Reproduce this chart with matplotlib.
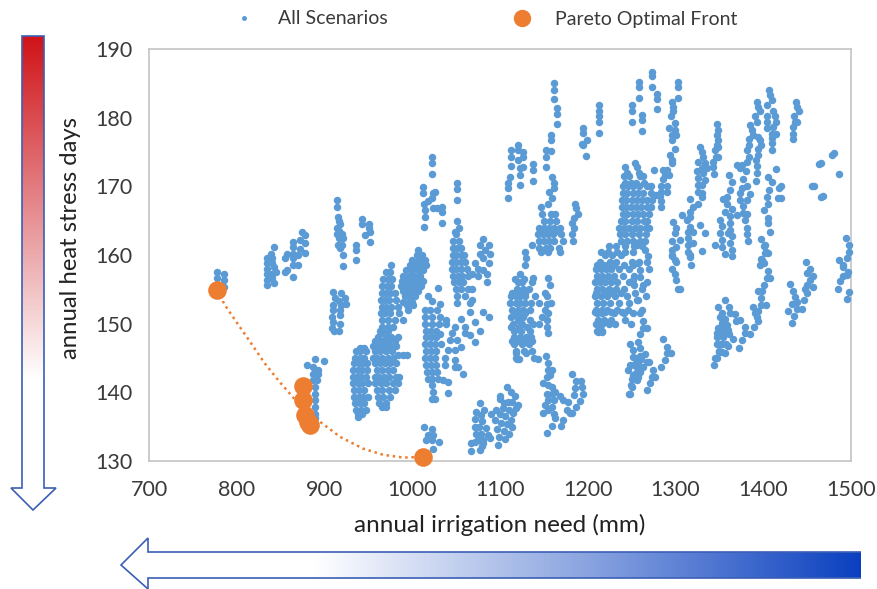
import matplotlib
matplotlib.use("Agg")
import matplotlib.pyplot as plt
import numpy as np
from matplotlib.colors import LinearSegmentedColormap
from matplotlib.lines import Line2D
from matplotlib.patches import Polygon

plt.rcParams['font.family'] = ['Lato', 'DejaVu Sans']

x_ticks = [700, 800, 900, 1000, 1100, 1200, 1300, 1400, 1500]
y_ticks = [130, 140, 150, 160, 170, 180, 190]

pareto_x = [777.5, 876, 876, 878, 881.5, 883, 1012.5]
pareto_y = [154.9, 140.9, 138.9, 136.7, 135.7, 135.2, 130.6]
front_curve_x = [777.5, 786.5, 802, 815, 832, 849, 866, 876, 883, 895, 918, 944, 967, 990, 1012.5]
front_curve_y = [154.9, 152.7, 149.8, 147.4, 144.2, 141.5, 139, 137.8, 136.8, 135.7, 133.5, 131.8, 130.9, 130.5, 130.6]

c_a = [(777,157.5),(785,157.3),(777,156.6),(786,156.4),(786,155.3)]
c_b = [(842,161.2),(839,160.2),(834,159.5),(840,159.5),(834,158.8),(840,158.8),(834,158),(843,158.3),(834,157.3),(840,157.3),(845,157.5),(834,156.4),(840,156.6),(834,155.6),(843,155.9),
       (874,163.4),(878,162.9),(864,161.9),(872,162.2),(878,161.7),(864,161.2),(872,160.9),(857,160.2),(864,160.2),(878,160.3),(855,159.5),(864,159.5),(870,160),(864,158.5),(870,158.5),(857,157.8),(855,157.5),(864,156.8)]
c_c = [(910,154.6),(919,154.5),(912,153.7),(923,153.7),(916,153.3),(910,152.7),(919,152.7),(925,152.9),(910,152),(918,152),(908,151),(918,151.2),(910,150.3),(918,150),(908,149.3),(917,148.9),(911,148.9)]
c_d = [(914,168),(914,167),(915,165.5),(916,165),(918,164.5),(914,164),(917,163.5),(920,163),(914,163),(916,162.5),(921,162.5),(915,161.5),(920,161.5),(918,161),(921,160),(921,158.4),(936,161.4),(936,160.7),(936,159.2),(943,165.2),(943,164.5),(951,164.5),(951,164),(946,162.9),(952,163.3),(952,161.9)]
c_near = [(889,144.9),(899,144.6),(880,144),(887,143.7),(893,143.2),(887,142.7),(893,142.6),(887,141.8),(891,141.8),(889,140.8),(889,139.8),(889,138.9),(889,137.9),(889,136.9),(889,136.2)]
c_e_left = [(940,146.5),(945,146.5),(936,146),(941,146),(947,146),(935,145),(940,145),(945,145),(934,144.2),(939,144.2),(944,144.2),(948,144.2),(933,143.2),(938,143.2),(943,143.2),(949,143.2),(933,142.3),(937,142.3),(942,142.3),(947,142.3),(933,141.3),(938,141.3),(943,141.3),(950,141.3),(934,140.3),(939,140.3),(945,140.3),(934,139.3),(939,139.3),(944,139.3),(950,139.3),(935,138.4),(940,138.4),(945,138.4),(936,137.4),(942,137.4),(947,137.4),(938,136.8),(943,136.8),(938,136.4)]
c_e_mid = [(967,148.6),(961,148),(970,148),(976,148),(984,148),(958,147.5),(965,147.5),(972,147.5),(980,147.5),(955,146.8),(962,146.8),(968,146.8),(975,146.8),(982,146.8),(957,146),(963,146),(970,146),(977,146),(984,145.5),(990,145.4),(994,145.4),(955,145),(960,145),(966,145),(972,145),(978,145),(957,144.2),(963,144.2),(969,144.2),(975,144.2),(982,144.2),(960,143.2),(966,143.2),(972,143.2),(978,143.2),(957,142.3),(962,142.3),(968,142.3),(974,142.3),(981,142.3),(985,142.3),(958,141.3),(964,141.3),(970,141.3),(978,141.3),(984,141.3),(960,140.3),(966,140.3),(973,140.3),(980,140.3),(961,139.3),(967,139.3),(975,139.3),(962,138.4),(970,138.4),(966,137.9),(970,137.9)]
c_f_left = [(976,158.5),(970,157.5),(975,157.5),(967,156.5),(972,156.5),(977,156.5),(966,155.5),(971,155.5),(976,155.5),(965,154.5),(970,154.5),(975,154.5),(980,154.5),(964,153.5),(969,153.5),(974,153.5),(982,153.5),(965,152.5),(970,152.5),(976,152.5),(984,152.4),(994,152.7),(1001,152.7),(964,151.5),(969,151.5),(975,151.5),(985,151.5),(995,152),(966,150.5),(972,150.5),(980,150.5),(990,150.5),(965,149.5),(972,149.5),(978,149.5),(963,148.9),(972,148.9)]
c_f_right = [(1007,160.8),(1005,160),(1011,160),(1000,159.3),(1008,159.3),(1014,159.3),(998,158.5),(1003,158.5),(1010,158.5),(1016,158.5),(993,157.8),(1000,157.8),(1006,157.8),(1012,157.8),(990,157),(996,157),(1002,157),(1009,157),(988,156.2),(993,156.2),(999,156.2),(1005,156.2),(1012,156.2),(987,155.5),(992,155.5),(998,155.5),(1004,155.5),(1010,155.5),(990,154.8),(996,154.8),(1002,154.8),(1006,154.8),(992,154),(998,154),(1003,154),(990,153.2),(996,153.2),(1000,153.2)]
c_g = [(1018,154.1),(1029,155.2),(1023,153.3),(1032,152.9),(1015,152),(1020,152),(1028,152),(1015,151),(1022,151),(1032,151),(1015,150),(1022,150),(1030,150),(1038,150),(1039,150.5),(1056,150.7),(1066,151.7),(1081,151.7),(1087,151),(1071,150.3),(1077,149),(1060,149.5),(1049,149.5),(1045,148.6),(1060,148.6),(1066,148.3),(1071,147.4),(1051,147.6),(1043,147.6),(1056,146.6),(1049,146.1),(1041,146.1),(1037,145),(1049,144.7),(1052,143.7),(1058,142.7),(1037,144),(1049,143.7),(1041,141.5),(1035,141.8),(1041,139.9),
       (1016,149),(1021,149),(1027,149),(1032,148.5),(1016,148),(1021,148),(1027,148),(1015,147),(1020,147),(1026,147),(1033,147),(1016,146),(1021,146),(1027,146),(1015,145),(1020,145),(1026,145),(1016,144),(1021,144),(1027,144),(1017,143),(1022,143),(1028,143),(1018,142),(1023,142),(1029,142),(1023,141),(1024,140),(1026,139),(1022,139)]
c_g_up = [(1050,163),(1047,162),(1053,162),(1046,161),(1051,161),(1056,161),(1046,160),(1050,160),(1055,160),(1059,160),(1045,159),(1050,159),(1055,159),(1060,159),(1045,158),(1050,158),(1056,158),(1062,158),(1047,157),(1052,157),(1057,157),(1064,157),(1048,156),(1053,156),(1058,156),(1050,155),(1056,155),(1063,155),(1051,154),(1060,154),(1051,153),(1066,153),
          (1081,162.4),(1077,161.4),(1087,161.4),(1083,160.8),(1077,160.2),(1089,160.2),(1081,159.5),(1071,158.8),(1087,158.8),(1075,158),(1081,157.8),(1085,157.3),(1068,157.3),(1075,157),(1085,156),(1068,155.1),(1068,153.4),(1051,165),(1053,164),(1049,163.4)]
c_top1 = [(1023,174.2),(1023,173.4),(1023,171.8),(1012,169.9),(1012,169),(1051,170.5),(1051,169.6),(1051,168),(1024,169),(1026,169.2),(1022,168.3),(1013,167.5),(1018,167.8),(1033.5,167),(1033.5,166.2),(1024,166.8),(1028,166.8),(1014.5,166.6),(1014.5,165.6),(1033.5,164.6),(1013,164.1)]
c_h = [(1112,175.3),(1112,174.3),(1112,173),(1120,176),(1120,175.3),(1126,175),(1126,174.2),(1120,173.9),(1126,172.8),(1123,172.6),(1123,171.7),(1111,171.4),(1109.5,170.5),(1109.5,169.7),(1109.5,168.3),(1123,170.2),(1138,173.3),(1138,172.4),(1138,170.8),
       (1161.6,185),(1161.6,184.1),(1161.6,182.7),(1165,181.4),(1165,180.5),(1165,179.1),(1158,177.5),(1158,176.7),(1152.4,175.3),(1158,175.2),(1152.4,174.3),(1152.4,172.8),(1159,171.3),(1161,170.5),(1162,169.8),(1156,169.2),(1159,168.3),(1155,167.5)]
c_i = [(1147,167),(1148,166),(1158,166),(1163,166),(1150,165),(1157,165),(1164,165),(1144,164),(1150,164),(1156,164),(1162,164),(1168,164),(1146,163.5),(1153,163.5),(1159,163.5),(1165,163.5),(1143,163),(1149,163),(1155,163),(1160,163),(1170,163),(1144,162),(1150,162),(1156,162),(1162,162),(1172,162),(1145,161),(1152,161),(1157,161),(1167,161),(1137,161.5),(1147,160.5),(1155,160.5),(1168,160.5),(1128.5,160.5),(1130,159.5),(1128.5,158.5),
       (1185.5,167.5),(1187,166.8),(1189,166),(1184,165.4),(1182,164.6),(1184,163.9),(1182,163),(1183,162.1)]
c_i_low = [(1123,157.3),(1117,156.5),(1127,156.5),(1138,156.6),(1155,156.6),(1120,156),(1125,156),(1136,156),(1157,155.7),(1119,155),(1126,155),(1133,155),(1114,154.5),(1124,154.5),(1129,154.5),(1151,154.5),(1112,154),(1118,154),(1123,154),(1129,154),(1140,154),(1153,154),(1111,153),(1118,153),(1123,153),(1129,153),(1135,153),(1144,153),(1158,153),(1153,152.8),(1114,152),(1121,152),(1126,152),(1134,152),(1151,152),(1118,151.5),(1123,151.5),(1129,151.5),(1155,151.5),(1113,151),(1120,151),(1126,151),(1148,151),(1120,150.5),(1134,150.5),(1153,150.5),(1115,150),(1125,150),(1145,150),(1138,150),(1113,149.5),(1122,149.5),(1131,149.5),(1153,149.5),(1116,149),(1124,149),(1134,149),(1155,148.6),(1116,148),(1123,148),(1130,148),(1135,148),(1114,147.5),(1122,147.5),(1128,147.5),(1136,147.5),(1116,147),(1125,147),(1133,147),(1118,146),(1127,146),(1136,146),(1118,145.8),(1130,145.8),(1118,145),(1139,145),(1143,144.8),(1119,144.9),(1122,144.9)]
c_j = [(1152,145.3),(1155,144.2),(1155,143.3),(1159,143.3),(1153,142.3),(1157,142.5),(1149,141.3),(1155,141),(1159,140.8),(1163,140),(1153,139.8),(1159,139.8),(1168,139.4),(1155,138.9),(1161,138.9),(1172,138.9),(1151,138.2),(1159,137.9),(1149,137),(1155,137.4),(1161,136.9),(1172,136),(1180,137),(1163,136.2),(1170,135.1),(1159,135.1),(1154,134.1),
       (1182,142.6),(1187,141.6),(1192,141.6),(1193,140.8),(1185.5,140.7),(1184,139.6),(1195,139.7),(1191,138.8),(1178,138.6),(1187,137.8),(1182,137),(1176,137.5)]
c_k = [(1108,140.8),(1113,140),(1100,139.5),(1117,139.4),(1077,138.5),(1121,138.1),(1100,139),(1104,138.4),(1109,138.6),(1114,138.6),(1118,137.7),(1096,137.5),(1103,137.7),(1110,137.5),(1115,137),(1082,137.4),(1073,137.2),(1078,136.7),(1090,136.8),(1100,136.8),(1106,136.5),(1112,136),(1072,136.1),(1080,135.8),(1094,136),(1101,135.6),(1108,135.4),(1114,135),(1071,135),(1076,135),(1084,134.8),(1097,134.7),(1104,134.4),(1110,134),(1073,134),(1078,134),(1086,133.8),(1099,133.5),(1106,133.2),(1075,133),(1081,133),(1089,133.3),(1071,132.7),(1080,132.2),(1098,132.3),(1067,131.4),(1077,131.6),(1066.6,132.6),(1081,132.6)]
c_l = [(1013,134.9),(1022,134.6),(1018,133.8),(1024,133.8),(1016,133),(1022,133),(1030,132.7),(1024,131.8)]
c_m = [(1215,160.5),(1223,160.5),(1233,160.5),(1243,160.5),(1220,160),(1228,160),(1238,160),(1214,159),(1225,159),(1232,159),(1250,159),(1258,159),(1268,159),(1210,158.5),(1217,158.5),(1222,158.5),(1230,158.5),(1241,158.5),(1209,158),(1215,158),(1221,158),(1227,158),(1236,158),(1247,158),(1270,158),(1210,157),(1216,157),(1223,157),(1230,157),(1240,157),(1253,157),(1208,156),(1214,156),(1220,156),(1226,156),(1233,156),(1247,156),(1268,156),(1210,155),(1216,155),(1224,155),(1232,155),(1241,155),(1262,155),(1209,154.5),(1219,154.5),(1228,154.5),(1238,154.5),(1208,154),(1215,154),(1222,154),(1231,154),(1245,154),(1266,154),(1210,153),(1217,153),(1225,153),(1236,153),(1247,153),(1209,152),(1216,152),(1222,152),(1233,152),(1246,152),(1262,152),(1208,151.7),(1213,151.7),(1220,151.7),(1227,151.7),(1239,151.7),(1210,151.5),(1216,151.5),(1230,151.5),(1241,151.5),(1251,151.5),(1212,150.5),(1219,150.5),(1227,150.5),(1243,150.5),(1209,150),(1216,150),(1224,150),(1231,150),(1249,150),(1214,149.8),(1211,149),(1216,149),(1212,148.8),(1216,148.8),(1214,148.9)]
c_top2 = [(1195,178.5),(1195,177.7),(1195,176),(1199,176.8),(1198,174.4),(1194,176.2),(1212.5,181.9),(1212.5,180.9),(1212.5,180.2),(1212.5,179.4),(1212.5,177.8),(1250,181.9),(1250,181),(1250,179.4),(1258.5,185.2),(1258.5,184.4),(1258.5,182.8),(1261.5,180.4),(1261.5,179.6),(1261.5,178),(1272.7,186.7),(1272.7,186),(1272.7,184.4),(1278.4,183.5),(1278.4,182.7),(1278.4,181.2),(1303,185.2),(1303,184.4),(1303,182.8)]
c_strand = [(1295.5,182.3),(1297.4,181.6),(1297.4,180.9),(1294.4,180.2),(1299.3,179.2),(1292.8,178.5),(1299.3,178.2),(1295.5,177.5),(1301,177.5),(1295.5,176.7),(1299.3,175.5),(1293.6,174.6),(1295.5,173.9),(1289.8,172.4),(1295.5,173.4),(1286,172.4),(1288,171.7),(1292.8,171.7),(1286,171),(1284,170.1),(1289.8,170.1),(1284,169.2),(1289.8,169.2),(1282,168.6),(1283,167.8),(1283,167),(1275.4,172.4)]
c_n = [(1254,173.4),(1243,172.8),(1256,172.8),(1245,172),(1258,172),(1241,171.5),(1247,171.5),(1260,171.5),(1263,171.5),(1243,170.5),(1249,170.5),(1255,170.5),(1264,170.5),(1240,170),(1246,170),(1252,170),(1258,170),(1268,170),(1272,170),(1240,169),(1245,169),(1251,169),(1257,169),(1263,169),(1272,169),(1278,168.8),(1239,168),(1244,168),(1250,168),(1256,168),(1262,168),(1268,168),(1273,168),(1239,167),(1244,167),(1249,167),(1255,167),(1261,167),(1267,167),(1272,167),(1240,166),(1245,166),(1251,166),(1257,166),(1263,166),(1270,166),(1238,165),(1243,165),(1250,165),(1256,165),(1264,165),(1268,165),(1236,164),(1241,164),(1247,164),(1254,164),(1260,164),(1266,164),(1270,164),(1237,163),(1242,163),(1250,163),(1258,163),(1266,163),(1238,162),(1245,162),(1251,162),(1259,162),(1265,162),(1224,161.3),(1232,161.3),(1242,161.3),(1253,161.3),(1262,161.3),
       (1255.6,161.4),(1252,160.4),(1265,160.7),(1269,159.8),(1257.5,158.8),(1252,158.5),(1259.4,157.8),(1259.4,156.8),(1252,156.4),(1263,155.7),(1252.6,155.6),(1253.7,154.5),(1255.6,153.4),(1257.5,153.4)]
c_o = [(1347.6,179.1),(1348.7,178.2),(1347.6,177.5),(1348.7,176.8),(1347,176),(1345,175.3),(1348.7,175.8),(1346,174.2),(1343,173.6),(1348.7,174.2),(1343,172.8),(1344,171.8),
       (1328,175.7),(1330,175),(1331.6,174.3),(1326,173.6),(1333.5,173.4),(1330,172.6),(1336,172.6),(1324,172.2),(1331.6,171.9),(1326,171.2),(1333.5,170.9),(1326,170.2),(1330,170.2),(1326,169.2),(1330,169.1),(1330,168.4),(1316.4,168.1),(1326,167.5),(1320,167),(1316.4,166.3),(1307,165.8),
       (1297.4,164.8),(1312.6,165.1),(1316.4,165.6),(1327.8,164.4),(1301,163.9),(1316.4,164.1),(1299.3,163.2),(1314.5,163.4),(1320,163.3),(1305,162.2),(1333.5,163.2),(1295.5,162),(1314.5,162.5),(1320,161.8),(1301,161.2),(1314.5,161.5),(1295.5,160.8),(1329.7,160.6),(1314.5,160.5),(1295.5,159.8),(1316.4,160),(1299.3,159.3),
       (1295.5,160),(1301,159),(1295.5,158),(1299,157.3),(1301,156.3),(1303,155.1),(1305,155.1),(1316.4,159.7),(1318,158.5)]
c_p = [(1406.8,184),(1407.6,183.3),(1409.5,182.6),(1392.4,182.3),(1394.3,181.6),(1396.2,180.9),(1404.6,181.9),(1411.4,180.9),(1403.8,180.2),(1413.3,180.2),(1390.5,180.2),(1403.8,179.4),(1415,179.4),(1392.4,179.3),(1403.8,178.5),(1411.4,178.7),(1384.8,179),(1386.7,178.2),(1409.5,177.6),(1414,177.6),(1388.6,177.5),(1384,176.9),(1394.3,177.2),(1409.5,177),(1396.2,176.8),(1398,176),(1384,176),(1394.3,175.5),(1409.5,176.3),(1381,175.3),(1409.5,175.3),(1394.3,174.6),(1384,174.2),(1381,173.6),(1391.6,173.9),(1375.3,173.1),(1369.6,173.1),(1392.4,173),(1373.4,172.6),(1380.2,172.2),(1392.4,171.9),(1391.6,170.8),(1360.9,171.7),(1376.4,171),(1405.7,171.4),(1363.9,170.6),(1410.3,170.6),(1381,170),(1375.3,169.7),(1362,169.4),(1406.8,169.5),(1373.4,169.1),(1384.8,168.9),(1403.8,168.5),(1354.4,168.1),(1358.2,168.5),(1373.4,168),(1381.8,168),(1358.2,167.5),(1405,167.5),(1377.2,167.2),(1363.9,166.7),(1401,166.6),(1356.3,166.2),(1377.2,166.1),(1362,165.7),(1369.6,165.8),(1381,166),(1405,165.4),(1350.6,165.1),(1379,165.1),(1362,164.6),(1405,164.6),(1352.5,164.2),(1381,163.9),(1362,163.7),(1407.6,163.4),(1350.6,163.2),(1360,163.2),(1364,162.8),(1381,163),(1352.5,162.2),(1383,162),(1397.3,162.4),(1345,161.4),(1362,161.7),(1402,161.5),(1352.5,161.2),(1364,160.8),(1402.7,160.5),(1356.3,160.2),(1398,159.4),(1364,159.8),
       (1436.9,182.3),(1439,181.6),(1440.7,180.9),(1435.3,180.2),(1439,179.3),(1434,178.6),(1434,177.6),(1434,176.9),(1436,179.3),
       (1480.6,174.8),(1478,174.6),(1465.7,173.4),(1463,173.2),(1486,171.8),(1457.8,170),(1455,170),(1468.4,168.6),(1466,168.5),(1415,172.5),(1420,170),(1418,169.8),(1420,168.3),(1417,168.3)]
c_q = [(1401,161.3),(1402,160.3),(1405.7,160.3),(1399,159.2),(1396,158.5),(1401,158.8),(1405,157.7),(1404,156.7),(1408,156.7),(1401,155.7),(1394,154.8),(1399,154.8),(1398,153.8),(1398,152.7),(1402.7,152.7),(1388,152.5),(1394,151.8),(1390.5,151.5),(1392.4,151),(1394,150.4),(1389.4,149.5),
       (1356.3,153.4),(1348,152.5),(1361,152.4),(1352.5,151.5),(1362,151.5),(1367.7,151.4),(1350.6,150.9),(1356.3,150.7),(1373.4,150.6),(1368.8,150.4),(1352.5,150.1),(1358.2,149.8),(1379,149.5),(1348.7,149.3),(1354.4,149.3),(1360,149.1),(1347.6,148.6),(1353.6,148.6),(1361,148.5),(1379,148.6),(1384.8,148.5),(1346.8,148),(1354.4,148),(1365.8,147.8),(1375.3,147.6),(1346.8,147),(1352.5,147),(1360,146.8),(1372.6,146.5),(1349.8,145.9),(1356.3,145.8),(1345,145),(1347,145),(1344,144),(1351,147),(1357,147),(1350,146),(1353,145.9)]
c_r = [(1430.4,155.8),(1434.2,154.8),(1436,153.9),(1432.3,152.8),(1438,153.2),(1428.5,151.8),(1439,152.1),(1443.7,152.1),(1435.3,151.1),(1433,150.1),(1448.3,159),(1453.2,158),(1449.4,157.4),(1456.2,157),(1453.2,156.3),(1449.4,155.7),(1456.2,155.4),(1447.5,155),(1449.4,154.5),(1446.4,153.4)]
c_s = [(1494.2,162.5),(1498,161.4),(1497.7,160.4),(1495.8,159.5),(1486.3,159.2),(1491.2,158.5),(1491.2,158.2),(1496.9,157.5),(1491.2,157),(1495,157.1),(1487.4,156.2),(1484.7,155.1),(1498,154.6),(1495.8,153.6)]
c_t = [(1259.4,151.5),(1263.2,150.4),(1263.2,149.4),(1267.8,149.4),(1260,148.5),(1286,147.7),(1257.5,147.4),(1248,147.1),(1290.6,146.6),(1251.8,146.2),(1259.4,146.5),(1289.8,145.8),(1294.4,145.8),(1265,145.6),(1259.4,145.3),(1251.8,145.2),(1287.9,144.7),(1267,144.4),(1270,144.4),(1257.5,144.2),(1248,144),(1284,143.7),(1255.6,143.7),(1263.2,143.7),(1274.6,143.3),(1259.4,143),(1253.7,142.7),(1276.5,142.3),(1272.7,142.3),(1257.5,142.3),(1251.8,142.5),(1255.6,141.8),(1270.8,141.4),(1250,140.8),(1267.8,140.3),(1248,139.8),(1246,143.2),(1249,141),(1247.5,139.8),(1250,142),(1254,145),(1256,144.5),(1253,144),(1256,143),(1261,144.8),(1261,143.5)]

clusters = [c_a, c_b, c_c, c_d, c_near, c_e_left, c_e_mid, c_f_left, c_f_right, c_g, c_g_up, c_top1,
            c_h, c_i, c_i_low, c_j, c_k, c_l, c_m, c_top2, c_strand, c_n, c_o, c_p, c_q, c_r, c_s, c_t]
scenario_x = [p[0] for c in clusters for p in c]
scenario_y = [p[1] for c in clusters for p in c]

W, H = 877, 589
BLUE = '#5B9BD5'
ORANGE = '#ED7D31'
GREY = '#C4C4C4'
TEXT = '#3A3A3A'

fig = plt.figure(figsize=(W / 100, H / 100), dpi=100, facecolor='white')

ax = fig.add_axes([149 / W, 1 - 461 / H, (851 - 149) / W, (461 - 49) / H])
ax.set_xlim(700, 1500)
ax.set_ylim(130, 190)
ax.scatter(scenario_x, scenario_y, s=29, color=BLUE, linewidths=0, zorder=3, clip_on=False)
ax.plot(front_curve_x, front_curve_y, ls=(0, (1, 1.5)), lw=1.8, color=ORANGE, zorder=4, clip_on=False)
ax.scatter(pareto_x, pareto_y, s=180, color=ORANGE, linewidths=0, zorder=5, clip_on=False)
ax.set_xticks(x_ticks)
ax.set_yticks(y_ticks)
ax.tick_params(axis='x', length=0, labelsize=15.5, labelcolor=TEXT, pad=14)
ax.tick_params(axis='y', length=0, labelsize=15.5, labelcolor=TEXT, pad=12)
for sp in ax.spines.values():
    sp.set_color(GREY)
    sp.set_linewidth(1.2)
ax.set_xlabel('annual irrigation need (mm)', fontsize=17.5, color='#222222', labelpad=10)
ax.set_ylabel('annual heat stress days', fontsize=17.2, color='#222222')
ax.yaxis.set_label_coords(81 / W, 1 - 238 / H, transform=fig.transFigure)

handles = [
    Line2D([], [], ls='none', marker='o', ms=3.6, color=BLUE, mew=0),
    Line2D([], [], ls='none', marker='o', ms=12.5, color=ORANGE, mew=0),
]
fig.legend(handles, ['All Scenarios', 'Pareto Optimal Front'], ncol=2, frameon=False,
           loc='center left', bbox_to_anchor=(215 / W, 1 - 19 / H), fontsize=14,
           labelcolor=TEXT, handletextpad=0.73, columnspacing=5.9, handlelength=2, borderpad=0)

overlay = fig.add_axes([0, 0, 1, 1], facecolor='none')
overlay.set_xlim(0, W)
overlay.set_ylim(H, 0)
overlay.axis('off')

OUT = '#3A5FB5'
red_cmap = LinearSegmentedColormap.from_list('r', ['#D01418', '#E58A8E', '#FFFFFF'])
blue_cmap = LinearSegmentedColormap.from_list('b', ['#FFFFFF', '#8AA4E0', '#0A40C0'])

v_arrow = [(22, 36), (44, 36), (44, 488), (56, 488), (33, 510), (11, 488), (22, 488)]
v_grad = np.linspace(0, 1, 300).reshape(-1, 1)
im = overlay.imshow(np.clip(v_grad * 1.38, 0, 1), extent=(11, 56, 510, 36), cmap=red_cmap, aspect='auto', vmin=0, vmax=1, zorder=1)
vp = Polygon(v_arrow, closed=True, fc='none', ec=OUT, lw=1.2, zorder=2)
overlay.add_patch(vp)
im.set_clip_path(vp)

h_arrow = [(861, 552), (148, 552), (148, 538), (121, 565), (148, 589), (148, 578), (861, 578)]
h_grad = np.linspace(0, 1, 600).reshape(1, -1)
im2 = overlay.imshow(np.clip((h_grad - 0.26) / 0.74, 0, 1), extent=(121, 861, 589, 538), cmap=blue_cmap, aspect='auto', vmin=0, vmax=1, zorder=1)
hp = Polygon(h_arrow, closed=False, fc='none', ec=OUT, lw=1.2, zorder=2)
overlay.add_patch(hp)
im2.set_clip_path(Polygon(h_arrow, closed=True, transform=overlay.transData))
overlay.set_xlim(0, W)
overlay.set_ylim(H, 0)

fig.savefig('out.png', dpi=100)
